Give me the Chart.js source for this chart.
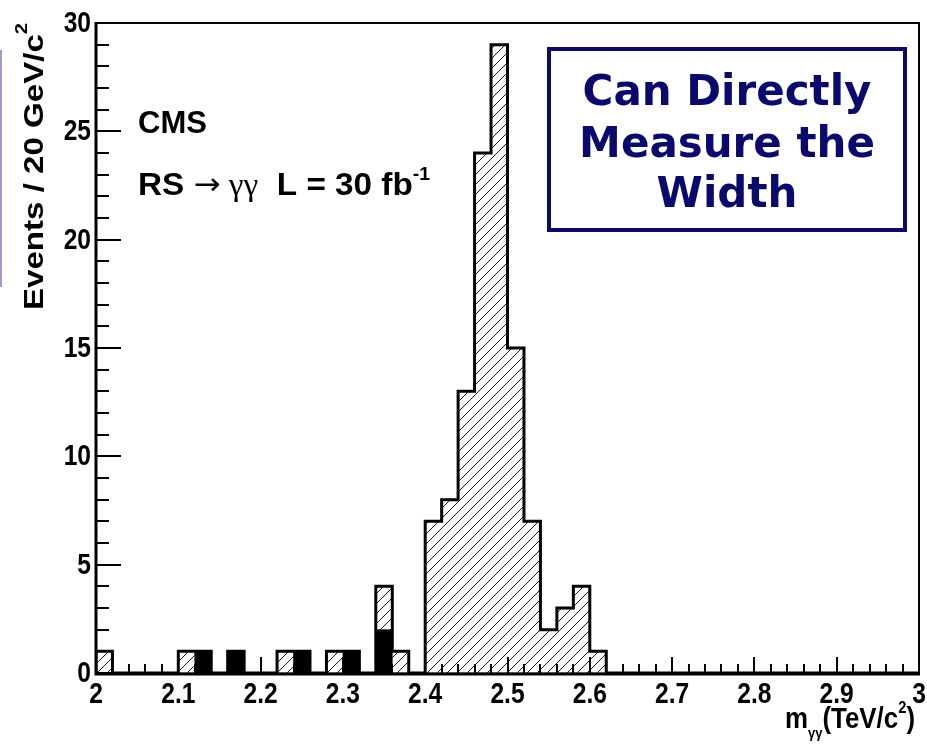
<!DOCTYPE html>
<html>
<head>
<meta charset="utf-8">
<script src="https://cdn.jsdelivr.net/npm/chart.js@4.4.1/dist/chart.umd.min.js"></script>
<style>
  html, body { margin: 0; padding: 0; background: #fff; }
</style>
</head>
<body>
<canvas id="chart" width="927" height="747"></canvas>
<script>
// binning: 20 GeV bins from 2.0 to 3.0 TeV
const binStart = 2.0;
const binWidth = 0.02;

// all events per bin (hatched histogram)
const totalCounts = [
  1, 0, 0, 0, 0, 1, 1, 0, 1, 0,
  0, 1, 1, 0, 1, 1, 0, 4, 1, 0,
  7, 8, 13, 24, 29, 15, 7, 2, 3, 4,
  1, 0, 0, 0, 0, 0, 0, 0, 0, 0,
  0, 0, 0, 0, 0, 0, 0, 0, 0, 0,
];

// background events per bin (black histogram)
const bkgCounts = [
  0, 0, 0, 0, 0, 0, 1, 0, 1, 0,
  0, 0, 1, 0, 0, 1, 0, 2, 0, 0,
  0, 0, 0, 0, 0, 0, 0, 0, 0, 0,
  0, 0, 0, 0, 0, 0, 0, 0, 0, 0,
  0, 0, 0, 0, 0, 0, 0, 0, 0, 0,
];

const boxLines = ['Can Directly', 'Measure the', 'Width'];

const SANS = "'Liberation Sans', Arial, sans-serif";
const NAVY = '#0a0a6e';
const LABEL_SQUEEZE = 0.82; // подписи осей в оригинале узкие

const binCenters = totalCounts.map((_, i) => +(binStart + binWidth * (i + 0.5)).toFixed(3));
const binLow = totalCounts.map((_, i) => +(binStart + binWidth * i).toFixed(3));

// контур гистограммы (ступеньки по краям бинов)
const outline = [{ x: binStart, y: 0 }]
  .concat(totalCounts.map((c, i) => ({ x: binLow[i], y: c })))
  .concat([{ x: +(binStart + binWidth * totalCounts.length).toFixed(3), y: totalCounts[totalCounts.length - 1] }]);

function makeHatch() {
  const s = 10;
  const c = document.createElement('canvas');
  c.width = s;
  c.height = s;
  const g = c.getContext('2d');
  g.strokeStyle = '#1a1a1a';
  g.lineWidth = 1;
  g.beginPath();
  g.moveTo(0, s); g.lineTo(s, 0);
  g.moveTo(-s / 2, s / 2); g.lineTo(s / 2, -s / 2);
  g.moveTo(s / 2, s * 1.5); g.lineTo(s * 1.5, s / 2);
  g.stroke();
  return g.createPattern(c, 'repeat');
}

// draw a run of text pieces (sub/superscripts), squeezed/stretched to a target width
function drawRich(ctx, parts, x, y, targetWidth) {
  let total = 0;
  parts.forEach((p) => { ctx.font = p.font; p.w = ctx.measureText(p.t).width; total += p.w; });
  const k = targetWidth ? targetWidth / total : 1;
  ctx.save();
  ctx.translate(x, y);
  ctx.scale(k, 1);
  let cx = 0;
  parts.forEach((p) => {
    ctx.font = p.font;
    ctx.fillText(p.t, cx, p.dy || 0);
    cx += p.w;
  });
  ctx.restore();
}

function squeezedText(ctx, text, x, y, align) {
  ctx.save();
  ctx.translate(x, y);
  ctx.scale(LABEL_SQUEEZE, 1);
  ctx.textAlign = align;
  ctx.fillText(text, 0, 0);
  ctx.restore();
}

const fmt = (v) => String(+Number(v).toFixed(1));

const framePlugin = {
  id: 'frame',
  afterDatasetsDraw(chart) {
    const { ctx, chartArea: a, scales: { x, y } } = chart;
    ctx.save();
    ctx.strokeStyle = '#000';
    ctx.lineWidth = 2;
    ctx.beginPath();
    for (let v = 0; v <= 30; v++) {
      const py = Math.round(y.getPixelForValue(v));
      ctx.moveTo(a.left, py);
      ctx.lineTo(a.left + (v % 5 === 0 ? 25 : 13), py);
    }
    for (let i = 0; i <= 50; i++) {
      const px = Math.round(x.getPixelForValue(binStart + binWidth * i));
      ctx.moveTo(px, a.bottom);
      ctx.lineTo(px, a.bottom - (i % 5 === 0 ? 16 : 9));
    }
    ctx.stroke();

    ctx.lineWidth = 2;
    ctx.beginPath();
    ctx.moveTo(a.left, a.top);
    ctx.lineTo(a.right, a.top);
    ctx.lineTo(a.right, a.bottom);
    ctx.stroke();
    ctx.lineWidth = 3;
    ctx.beginPath();
    ctx.moveTo(a.left, a.top - 1);
    ctx.lineTo(a.left, a.bottom + 1);
    ctx.lineTo(a.right + 1, a.bottom + 1);
    ctx.stroke();

    // подписи делений по тикам шкал Chart.js
    ctx.fillStyle = '#000';
    ctx.font = `bold 30px ${SANS}`;
    ctx.textBaseline = 'alphabetic';
    y.ticks.forEach((t) => {
      squeezedText(ctx, fmt(t.value), a.left - 5, y.getPixelForValue(t.value) + 9, 'right');
    });
    x.ticks.forEach((t) => {
      squeezedText(ctx, fmt(t.value), x.getPixelForValue(t.value), a.bottom + 30, 'center');
    });
    ctx.restore();
  },
  afterDraw(chart) {
    const { ctx } = chart;
    ctx.save();
    ctx.fillStyle = '#000';
    ctx.textBaseline = 'alphabetic';
    ctx.textAlign = 'left';

    // надписи CMS
    ctx.font = `bold 31px ${SANS}`;
    ctx.fillText('CMS', 138, 133);
    drawRich(ctx, [
      { t: 'RS ', font: `bold 31px ${SANS}` },
      { t: '\u2192', font: `30px 'DejaVu Sans', sans-serif`, dy: -1 },
      { t: ' \u03B3\u03B3', font: `31px 'Liberation Serif', serif` },
      { t: '  L = 30 fb', font: `bold 31px ${SANS}` },
      { t: '-1', font: `bold 18px ${SANS}`, dy: -15 },
    ], 138, 195, 292);

    // рамка с текстом
    ctx.fillStyle = '#fff';
    ctx.fillRect(549, 49, 356, 181);
    ctx.strokeStyle = NAVY;
    ctx.lineWidth = 4;
    ctx.strokeRect(549, 49, 356, 181);
    ctx.fillStyle = NAVY;
    ctx.font = `bold 42px 'DejaVu Sans', sans-serif`;
    ctx.textAlign = 'center';
    [105, 157, 207].forEach((by, i) => ctx.fillText(boxLines[i], 727, by));
    ctx.textAlign = 'left';

    // подписи осей
    ctx.fillStyle = '#000';
    drawRich(ctx, [
      { t: 'm', font: `bold 30px ${SANS}` },
      { t: '\u03B3\u03B3', font: `bold 15px ${SANS}`, dy: 10 },
      { t: '(TeV/c', font: `bold 30px ${SANS}` },
      { t: '2', font: `bold 17px ${SANS}`, dy: -15 },
      { t: ')', font: `bold 30px ${SANS}` },
    ], 785, 728, 130);

    ctx.save();
    ctx.translate(43, 310);
    ctx.rotate(-Math.PI / 2);
    drawRich(ctx, [
      { t: 'Events / 20 GeV/c', font: `bold 28px ${SANS}` },
      { t: '2', font: `bold 17px ${SANS}`, dy: -16 },
    ], 0, 0, 287);
    ctx.restore();

    // край соседнего блока слайда
    ctx.fillStyle = '#9c9cd0';
    ctx.fillRect(0, 50, 2, 237);
    ctx.restore();
  },
};

const ctx = document.getElementById('chart').getContext('2d');
const hatch = makeHatch();

new Chart(ctx, {
  type: 'bar',
  data: {
    datasets: [
      {
        type: 'line',
        label: 'outline',
        data: outline,
        stepped: 'before',
        borderColor: '#000',
        borderWidth: 3,
        borderJoinStyle: 'miter',
        pointRadius: 0,
        fill: false,
        order: 0,
      },
      {
        label: 'background',
        data: bkgCounts.map((c, i) => ({ x: binCenters[i], y: c })),
        backgroundColor: '#000',
        borderWidth: 0,
        barPercentage: 1,
        categoryPercentage: 1,
        grouped: false,
        order: 1,
      },
      {
        label: 'all',
        data: totalCounts.map((c, i) => ({ x: binCenters[i], y: c })),
        backgroundColor: hatch,
        borderWidth: 0,
        barPercentage: 1,
        categoryPercentage: 1,
        grouped: false,
        order: 2,
      },
    ],
  },
  options: {
    responsive: false,
    animation: false,
    devicePixelRatio: 1,
    layout: { padding: { top: 23, right: 8, left: 0, bottom: 0 } },
    plugins: {
      legend: { display: false },
      tooltip: { enabled: false },
      title: { display: false },
    },
    scales: {
      x: {
        type: 'linear',
        min: 2,
        max: 3,
        offset: false,
        grid: { display: false, drawTicks: false },
        border: { display: false },
        afterFit: (s) => { s.height = 74; },
        ticks: { stepSize: 0.1, display: false, autoSkip: false },
      },
      y: {
        min: 0,
        max: 30,
        grid: { display: false, drawTicks: false },
        border: { display: false },
        afterFit: (s) => { s.width = 96; },
        ticks: { stepSize: 5, display: false },
      },
    },
  },
  plugins: [framePlugin],
});
</script>
</body>
</html>
